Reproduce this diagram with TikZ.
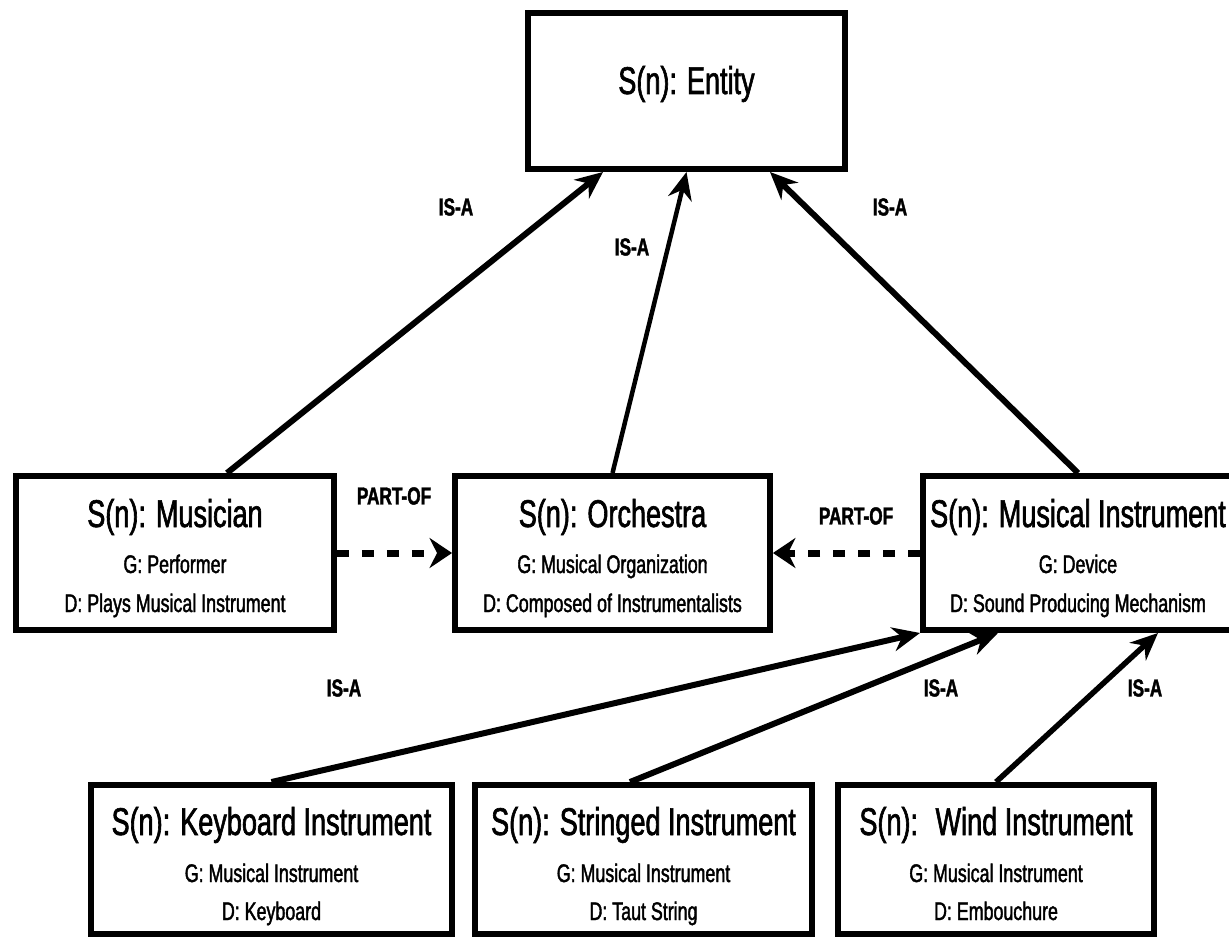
\documentclass[tikz,border=0pt]{standalone}
\usepackage{fontspec}
\setmainfont[FakeStretch=0.7,FakeBold=1.6]{Liberation Sans}
\usepackage{tikz}
\usetikzlibrary{arrows.meta,calc}

\begin{document}
\begin{tikzpicture}[x=0.02cm,y=-0.02cm,
    box/.style={draw,rectangle,line width=0.12cm,inner sep=0pt},
    ttl/.style={font=\fontsize{22}{26}\selectfont,anchor=base},
    sub/.style={font=\fontsize{14.5}{17}\selectfont,anchor=base},
    rel/.style={font=\bfseries\fontsize{14}{16}\selectfont},
    isa/.style={line width=0.12cm,-{Stealth[length=0.55cm,width=0.48cm,inset=0.18cm]}},
    partof/.style={line width=0.14cm,dash pattern=on 0.24cm off 0.26cm,-{Stealth[length=0.45cm,width=0.6cm,inset=0.15cm]}}]
  \useasboundingbox (0,0) rectangle (1229,939);
  % Top
  \node[box,minimum width=6.34cm,minimum height=3.12cm] (entity) at (686.5,91) {};
  \node[ttl] (entity-t) at (686.5,94) {S(n): Entity};
  % Middle row
  \node[box,minimum width=6.36cm,minimum height=3.08cm] (musician) at (175,553) {};
  \node[ttl] (musician-t) at (175,527) {S(n): Musician};
  \node[sub] (musician-g) at (175,573) {G: Performer};
  \node[sub] (musician-d) at (175,612) {D: Plays Musical Instrument};
  \node[box,minimum width=6.30cm,minimum height=3.08cm] (orchestra) at (612.5,553) {};
  \node[ttl] (orchestra-t) at (612.5,527) {S(n): Orchestra};
  \node[sub] (orchestra-g) at (612.5,573) {G: Musical Organization};
  \node[sub] (orchestra-d) at (612.5,612) {D: Composed of Instrumentalists};
  \node[box,minimum width=6.20cm,minimum height=3.08cm] (instrument) at (1078,553) {};
  \node[ttl] (instrument-t) at (1078,527) {S(n): Musical Instrument};
  \node[sub] (instrument-g) at (1078,573) {G: Device};
  \node[sub] (instrument-d) at (1078,612) {D: Sound Producing Mechanism};
  % Bottom row
  \node[box,minimum width=7.22cm,minimum height=2.98cm] (keyboard) at (271.5,859.5) {};
  \node[ttl] (keyboard-t) at (271.5,835) {S(n): Keyboard Instrument};
  \node[sub] (keyboard-g) at (271.5,882) {G: Musical Instrument};
  \node[sub] (keyboard-d) at (271.5,920) {D: Keyboard};
  \node[box,minimum width=6.74cm,minimum height=2.98cm] (stringed) at (643.5,859.5) {};
  \node[ttl] (stringed-t) at (643.5,835) {S(n): Stringed Instrument};
  \node[sub] (stringed-g) at (643.5,882) {G: Musical Instrument};
  \node[sub] (stringed-d) at (643.5,920) {D: Taut String};
  \node[box,minimum width=6.32cm,minimum height=2.98cm] (wind) at (996,859.5) {};
  \node[ttl] (wind-t) at (996,835) {S(n):~ Wind Instrument};
  \node[sub] (wind-g) at (996,882) {G: Musical Instrument};
  \node[sub] (wind-d) at (996,920) {D: Embouchure};
  % Links
  \draw[isa] ($(musician.north)+(52,0)$) -- ($(entity.south)+(-83.5,0)$);
  \draw[isa,line width=0.09cm] (orchestra.north) -- (entity.south);
  \draw[isa] (instrument.north) -- ($(entity.south)+(83.5,0)$);
  \draw[partof] (musician.east) -- (orchestra.west);
  \draw[partof] (instrument.west) -- (orchestra.east);
  \draw[isa] (keyboard.north) -- (instrument.south west);
  \draw[isa] ($(stringed.north)+(-13.5,0)$) -- ($(instrument.south)+(-80,0)$);
  \draw[isa,line width=0.11cm] (wind.north) -- ($(instrument.south)+(80,0)$);
  % Labels
  \node[rel] (isa-1) at (456,207) {IS-A};
  \node[rel] (isa-2) at (632,247) {IS-A};
  \node[rel] (isa-3) at (890,207) {IS-A};
  \node[rel] (isa-4) at (344,688) {IS-A};
  \node[rel] (isa-5) at (941,688) {IS-A};
  \node[rel] (isa-6) at (1145,688) {IS-A};
  \node[rel] (part-1) at (394,496) {PART-OF};
  \node[rel] (part-2) at (856,516) {PART-OF};
\end{tikzpicture}
\end{document}
